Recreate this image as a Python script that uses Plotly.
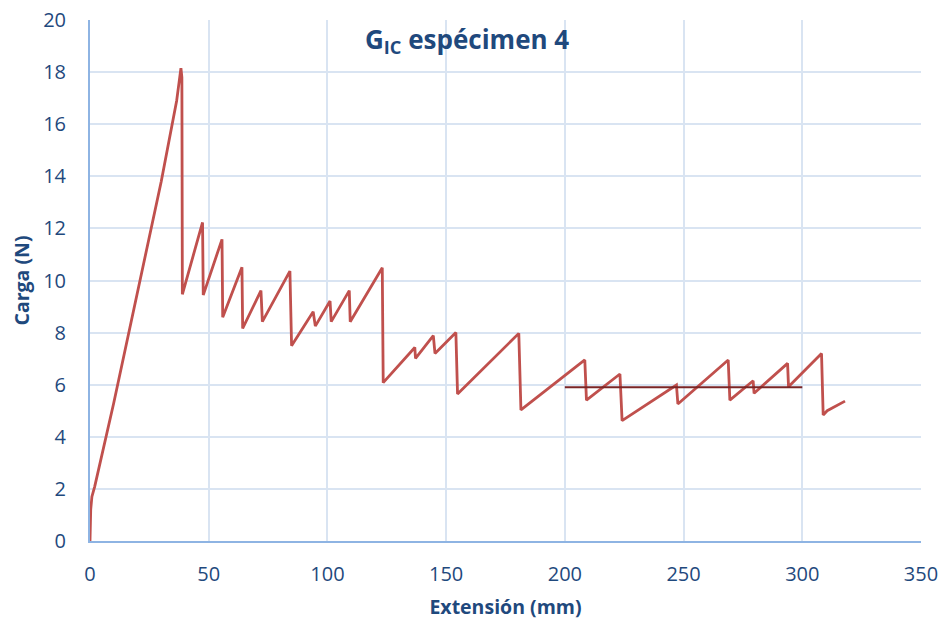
import plotly.graph_objects as go

# Load-extension vertices of the sawtooth curve (mm, N)
ext = [0, 0.3, 0.8, 2.0, 10, 20, 30, 36.5, 37.6, 38.3, 38.7, 38.9,
       47.4, 47.7, 55.6, 55.9, 64.0, 64.3, 72.0, 72.6, 84.2, 84.9,
       94.0, 94.9, 101.1, 101.6, 109.2, 109.6, 123.1, 123.5,
       136.8, 137.1, 144.6, 145.3, 154.1, 154.8, 180.6, 181.5,
       208.4, 209.1, 223.2, 224.1, 247.0, 247.6, 268.8, 269.5,
       279.3, 279.7, 293.8, 294.2, 308.1, 308.8, 310.5, 318.0]
carga = [0, 1.2, 1.7, 2.1, 5.3, 9.6, 13.8, 16.9, 17.6, 18.15, 17.8, 9.47,
         12.23, 9.44, 11.58, 8.59, 10.51, 8.16, 9.61, 8.42, 10.36, 7.50,
         8.80, 8.25, 9.21, 8.42, 9.61, 8.42, 10.49, 6.08,
         7.43, 7.01, 7.88, 7.20, 8.00, 5.64, 7.97, 5.03,
         6.95, 5.41, 6.41, 4.62, 5.99, 5.26, 6.95, 5.41,
         6.15, 5.67, 6.82, 5.92, 7.20, 4.84, 5.0, 5.37]

# Mean plateau line
media_x = [200, 300]
media_y = [5.9, 5.9]

xticks = [0, 50, 100, 150, 200, 250, 300, 350]
yticks = [0, 2, 4, 6, 8, 10, 12, 14, 16, 18, 20]

blue = "#1F497D"
grid = "#D9E4F2"
axisline = "#8EB4E3"

fig = go.Figure()
fig.add_trace(go.Scatter(x=ext, y=carga, mode="lines",
                         line=dict(color="#C0504D", width=2.8),
                         showlegend=False, hoverinfo="skip"))
fig.add_trace(go.Scatter(x=media_x, y=media_y, mode="lines",
                         line=dict(color="#7A2526", width=2),
                         showlegend=False, hoverinfo="skip"))

fig.update_layout(
    width=946, height=621,
    margin=dict(l=90, r=25, t=20, b=80),
    paper_bgcolor="white", plot_bgcolor="white",
    font=dict(family="Open Sans, Liberation Sans, sans-serif", color=blue),
    xaxis=dict(range=[0, 350], tickvals=xticks, showgrid=True, gridcolor=grid,
               gridwidth=1.5, zeroline=False, showline=True, linecolor=axisline,
               linewidth=2, ticks="", ticklabelstandoff=14, automargin=False,
               tickfont=dict(size=20, color=blue),
               title=dict(text="<b>Extensión (mm)</b>", font=dict(size=19.5, color=blue),
                          standoff=14)),
    yaxis=dict(range=[0, 20], tickvals=yticks, showgrid=True, gridcolor=grid,
               gridwidth=1.5, zeroline=False, showline=True, linecolor=axisline,
               linewidth=2, ticks="", ticklabelstandoff=18, automargin=False,
               tickfont=dict(size=20, color=blue),
               title=dict(text="<b>Carga (N)</b>", font=dict(size=19.5, color=blue),
                          standoff=8)),
    annotations=[dict(text="<b>G<sub>IC</sub> espécimen 4</b>", x=0.4537, y=0.962,
                      xref="paper", yref="paper", xanchor="center", yanchor="middle",
                      showarrow=False, font=dict(size=26, color=blue))],
)

fig.write_html("out.html")
